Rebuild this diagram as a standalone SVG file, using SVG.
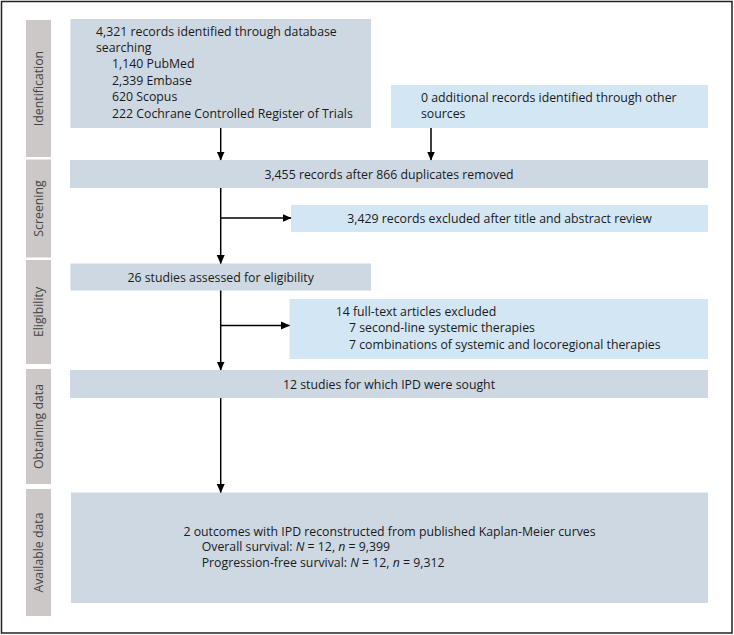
<svg xmlns="http://www.w3.org/2000/svg" width="734" height="635" viewBox="0 0 734 635">
<style>
  .t { font-family: "Open Sans", "Noto Sans", "Liberation Sans", sans-serif; font-size: 12.3px; fill: #1a1a1a; }
  .lab { font-family: "Open Sans", "Noto Sans", "Liberation Sans", sans-serif; font-size: 12.3px; fill: #444; text-anchor: middle; }
  .c { text-anchor: middle; }
  .main { fill: #cdd8e3; }
  .side { fill: #d2e6f4; }
  .stage { fill: #cbc8c7; }
  .edge { stroke: #000; stroke-width: 1.5; fill: none; }
</style>
<defs>
  <marker id="ah" markerWidth="9" markerHeight="9" refX="8.5" refY="4.5" orient="auto" markerUnits="userSpaceOnUse">
    <path d="M0,0.5 L9,4.5 L0,8.5 Z" fill="#000"/>
  </marker>
</defs>
<rect x="1.5" y="1.5" width="730.5" height="631.5" fill="#fff" stroke="#222" stroke-width="1.5"/>

<g id="stages">
  <g id="stage-identification">
    <rect class="stage" x="26" y="20" width="25" height="137"/>
    <text class="lab" transform="translate(42.5,88.5) rotate(-90)">Identification</text>
  </g>
  <g id="stage-screening">
    <rect class="stage" x="26" y="159.5" width="25" height="98"/>
    <text class="lab" transform="translate(42.5,208.5) rotate(-90)">Screening</text>
  </g>
  <g id="stage-eligibility">
    <rect class="stage" x="26" y="260" width="25" height="104"/>
    <text class="lab" transform="translate(42.5,312) rotate(-90)">Eligibility</text>
  </g>
  <g id="stage-obtaining">
    <rect class="stage" x="26" y="369" width="25" height="115"/>
    <text class="lab" transform="translate(42.5,426.5) rotate(-90)">Obtaining data</text>
  </g>
  <g id="stage-available">
    <rect class="stage" x="26" y="489" width="25" height="127"/>
    <text class="lab" transform="translate(42.5,552.5) rotate(-90)">Available data</text>
  </g>
</g>

<g id="node-identified">
  <rect class="main" x="70.5" y="19" width="300.5" height="109"/>
  <text class="t" x="96" y="35.5">4,321 records identified through database</text>
  <text class="t" x="96" y="51.9">searching</text>
  <text class="t" x="112" y="68.3">1,140 PubMed</text>
  <text class="t" x="112" y="84.7">2,339 Embase</text>
  <text class="t" x="112" y="101.1">620 Scopus</text>
  <text class="t" x="112" y="117.5">222 Cochrane Controlled Register of Trials</text>
</g>

<g id="node-additional">
  <rect class="side" x="391" y="85" width="317" height="43"/>
  <text class="t" x="421" y="101.5">0 additional records identified through other</text>
  <text class="t" x="421" y="117.5">sources</text>
</g>

<g id="node-after-duplicates">
  <rect class="main" x="70" y="160" width="638" height="28"/>
  <text class="t c" x="389" y="178.5">3,455 records after 866 duplicates removed</text>
</g>

<g id="node-excluded-title">
  <rect class="side" x="291" y="205" width="417" height="27"/>
  <text class="t c" x="499.5" y="223">3,429 records excluded after title and abstract review</text>
</g>

<g id="node-eligibility">
  <rect class="main" x="70.5" y="263.5" width="300.5" height="27"/>
  <text class="t c" x="220.7" y="281.5">26 studies assessed for eligibility</text>
</g>

<g id="node-fulltext-excluded">
  <rect class="side" x="289.5" y="299" width="418.5" height="60"/>
  <text class="t" x="335.7" y="315.5">14 full-text articles excluded</text>
  <text class="t" x="349" y="332">7 second-line systemic therapies</text>
  <text class="t" x="349" y="348.5">7 combinations of systemic and locoregional therapies</text>
</g>

<g id="node-ipd-sought">
  <rect class="main" x="70" y="370" width="638" height="28"/>
  <text class="t c" x="389" y="388.5">12 studies for which IPD were sought</text>
</g>

<g id="node-available">
  <rect class="main" x="71" y="492.5" width="637" height="110.5"/>
  <text class="t c" x="389.5" y="535.5">2 outcomes with IPD reconstructed from published Kaplan-Meier curves</text>
  <text class="t" x="201.7" y="551">Overall survival: <tspan font-style="italic">N</tspan> = 12, <tspan font-style="italic">n</tspan> = 9,399</text>
  <text class="t" x="201.7" y="566.5">Progression-free survival: <tspan font-style="italic">N</tspan> = 12, <tspan font-style="italic">n</tspan> = 9,312</text>
</g>

<g id="connectors">
  <line class="edge" x1="220.7" y1="128" x2="220.7" y2="160" marker-end="url(#ah)"/>
  <line class="edge" x1="431" y1="128" x2="431" y2="160" marker-end="url(#ah)"/>
  <line class="edge" x1="220.7" y1="188" x2="220.7" y2="263.5" marker-end="url(#ah)"/>
  <line class="edge" x1="220.7" y1="218" x2="291" y2="218" marker-end="url(#ah)"/>
  <line class="edge" x1="220.7" y1="290.5" x2="220.7" y2="370" marker-end="url(#ah)"/>
  <line class="edge" x1="220.7" y1="325.5" x2="289.5" y2="325.5" marker-end="url(#ah)"/>
  <line class="edge" x1="220.7" y1="398" x2="220.7" y2="492.5" marker-end="url(#ah)"/>
</g>
</svg>
